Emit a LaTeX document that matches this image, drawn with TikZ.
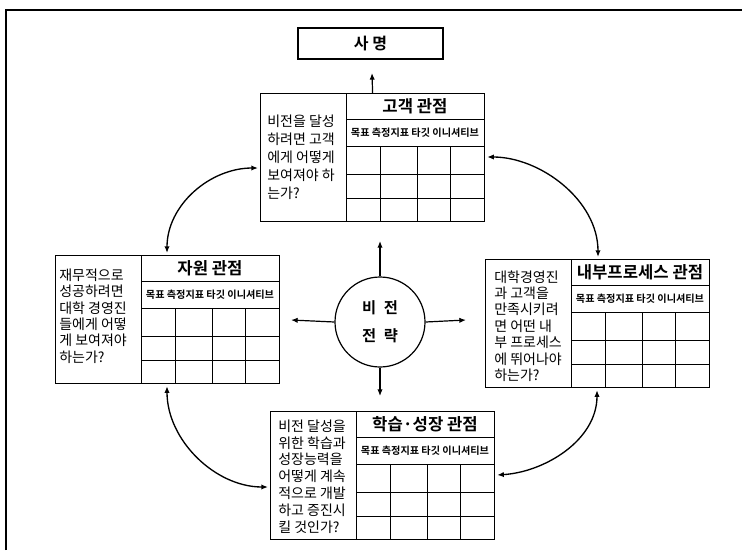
\documentclass[tikz,border=0pt]{standalone}
\usepackage{fontspec}
\setmainfont{Noto Sans CJK KR}[BoldFont={Noto Sans CJK KR Bold}]
\usetikzlibrary{arrows.meta,calc}
\tikzset{
  pbox/.style={draw, line width=0.9pt, minimum width=168pt, minimum height=96pt, inner sep=0pt},
  gridl/.style={line width=0.6pt},
  titlet/.style={font=\fontsize{12.5}{14}\selectfont\bfseries, inner sep=0pt},
  headt/.style={font=\fontsize{7.6}{8}\selectfont\bfseries, inner sep=0pt},
  qtext/.style={font=\fontsize{10.5}{#1}\selectfont, align=left, inner sep=0pt, anchor=west},
  conn/.style={line width=1pt, {Latex[length=5pt,width=4pt]}-{Latex[length=5pt,width=4pt]}},
  oneway/.style={line width=0.9pt, -{Latex[length=5pt,width=4pt]}},
}
\newcommand\pbox[7]{% name, pos, title, text, skip, text x, text y
  \node[pbox, anchor=north west] (#1) at (#2) {};
  \begin{scope}[shift={(#2)}]
    \draw[gridl] (86,0) -- (86,128);
    \draw[gridl] (86,26) -- (224,26) (86,53) -- (224,53) (86,81) -- (224,81) (86,105) -- (224,105);
    \draw[gridl] (120,53) -- (120,128) (157,53) -- (157,128) (190,53) -- (190,128);
    \node[titlet] (#1-t) at (155,13) {#3};
    \node[headt] (#1-h) at (155,40) {목표 측정지표 타깃 이니셔티브};
    \node[qtext=#5] (#1-q) at (#6,#7) {#4};
  \end{scope}}
\begin{document}
\begin{tikzpicture}[x=0.75pt,y=-0.75pt]
\useasboundingbox (0,0) rectangle (742,550);
% outer frame
\draw[line width=1.1pt] (6,550) -- (6,10) -- (742,10);
% mission
\node[draw, line width=0.9pt, minimum width=108.75pt, minimum height=23.25pt, inner sep=0pt,
      font=\fontsize{12}{14}\selectfont\bfseries] (mission) at (370.5,43.5) {사 명};
% four perspective boxes
\pbox{cust}{260,93}{고객 관점}{비전을 달성\\하려면 고객\\에게 어떻게\\보여져야 하\\는가?}{13.5pt}{7}{64.5}
\pbox{res}{55,255}{자원 관점}{재무적으로\\성공하려면\\대학 경영진\\들에게 어떻\\게 보여져야\\하는가?}{12.3pt}{4}{61}
\pbox{proc}{485,259}{내부프로세스 관점}{대학경영진\\과 고객을\\만족시키려\\면 어떤 내\\부 프로세스\\에 뛰어나야\\하는가?}{12.3pt}{9}{67}
\pbox{learn}{270,411}{학습·성장 관점}{비전 달성을\\위한 학습과\\성장능력을\\어떻게 계속\\적으로 개발\\하고 증진시\\킬 것인가?}{12.6pt}{8}{65.5}
% centre circle
\node[circle, draw, line width=0.9pt, minimum size=67.5pt, inner sep=0pt, align=center,
      font=\fontsize{11.5}{21}\selectfont\bfseries] (vis) at (380,322) {비\hspace{0.5em}전\\전\hspace{0.5em}략};
\coordinate (tipU) at (380,241);
\coordinate (tipD) at (380,396);
\coordinate (tipL) at (291,320);
\coordinate (tipR) at (466,320);
\draw[oneway] (vis.north) -- (tipU);
\draw[oneway] (vis.south) -- (tipD);
\draw[oneway] (vis.west) -- (tipL);
\draw[oneway] (vis.east) -- (tipR);
% customer to mission
\coordinate (tipM) at (372,73);
\draw[oneway] (cust.north) -- (tipM);
% curved double arrows
\draw[conn] ($(cust.north west)+(-2,75)$) .. controls (210,168) and (167,205) .. ($(res.north west)+(112,-2)$);
\draw[conn] ($(cust.north east)+(2,64)$) .. controls (540,157) and (598,200) .. ($(proc.north west)+(113,-2)$);
\draw[conn] ($(res.south west)+(112,2)$) .. controls (167,440) and (215,487) .. ($(learn.north west)+(-2,76)$);
\draw[conn] ($(proc.south west)+(112,2)$) .. controls (597,440) and (545,472) .. ($(learn.north east)+(2,64)$);
\end{tikzpicture}
\end{document}
